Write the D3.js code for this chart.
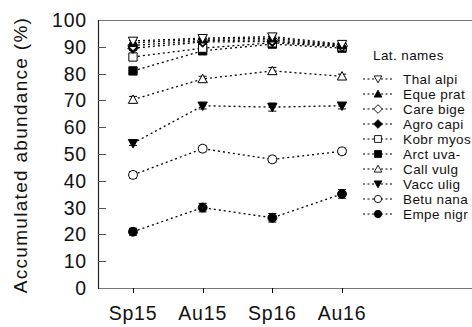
<!DOCTYPE html>
<html><head><meta charset="utf-8">
<script src="https://cdn.jsdelivr.net/npm/d3@7"></script>
<style>
html,body{margin:0;padding:0;background:#fff;}
svg{display:block;font-family:"Liberation Sans",Arial,sans-serif;}
</style></head>
<body><svg id="c" width="472" height="327"></svg>
<script>
const seasons = ["Sp15", "Au15", "Sp16", "Au16"];
const yTicks = [0, 10, 20, 30, 40, 50, 60, 70, 80, 90, 100];
const speciesNames = ["Thal alpi", "Eque prat", "Care bige", "Agro capi", "Kobr myos", "Arct uva-", "Call vulg", "Vacc ulig", "Betu nana", "Empe nigr"];
const speciesMarkers = ["triDownOpen", "triUpFilled", "diamondOpen", "diamondFilled", "squareOpen", "squareFilled", "triUpOpen", "triDownFilled", "circleOpen", "circleFilled"];
const thalAlpi = [92.2, 93.2, 93.8, 91.0];
const equePrat = [91.5, 92.8, 93.2, 90.7];
const careBige = [90.5, 92.3, 92.6, 90.5];
const agroCapi = [89.5, 91.8, 92.0, 90.2];
const kobrMyos = [86.2, 89.5, 91.5, 90.0];
const arctUva = [81.0, 88.5, 91.0, 89.5];
const callVulg = [70.3, 78.0, 81.0, 79.0];
const vaccUlig = [54.0, 68.0, 67.5, 68.0];
const betuNana = [42.2, 52.0, 48.0, 51.0];
const empeNigr = [21.0, 30.0, 26.2, 35.1];
const thalAlpiErr = [0.8, 0.8, 0.8, 0.6];
const equePratErr = [0.8, 0.8, 0.8, 0.6];
const careBigeErr = [0.8, 0.8, 0.8, 0.6];
const agroCapiErr = [0.8, 0.8, 0.8, 0.6];
const kobrMyosErr = [1.0, 0.9, 0.9, 0.7];
const arctUvaErr = [1.3, 1.0, 1.0, 0.8];
const callVulgErr = [1.2, 1.0, 1.3, 0.8];
const vaccUligErr = [0.8, 1.2, 1.5, 1.2];
const betuNanaErr = [1.2, 1.2, 1.2, 1.2];
const empeNigrErr = [1.3, 1.6, 1.6, 1.6];

const seriesVals = [thalAlpi, equePrat, careBige, agroCapi, kobrMyos, arctUva, callVulg, vaccUlig, betuNana, empeNigr];
const seriesErr = [thalAlpiErr, equePratErr, careBigeErr, agroCapiErr, kobrMyosErr, arctUvaErr, callVulgErr, vaccUligErr, betuNanaErr, empeNigrErr];

const svg = d3.select("#c");
const pLeft = 98, pRight = 472, pTop = 20, pBottom = 288;
const y = d3.scaleLinear().domain([0, 100]).range([pBottom, pTop]);
const x = d3.scalePoint().domain(seasons).range([133, 342]);

// frame
svg.append("line").attr("x1", pLeft).attr("x2", pRight).attr("y1", pTop + 0.5).attr("y2", pTop + 0.5).attr("stroke", "#777").attr("stroke-width", 1);
svg.append("line").attr("x1", pLeft).attr("x2", pRight).attr("y1", pBottom + 0.5).attr("y2", pBottom + 0.5).attr("stroke", "#777").attr("stroke-width", 1.2);
svg.append("line").attr("x1", pLeft + 0.5).attr("x2", pLeft + 0.5).attr("y1", pTop).attr("y2", pBottom + 1).attr("stroke", "#222").attr("stroke-width", 1.2);

// y axis ticks (inward) and labels
const yg = svg.append("g");
yg.selectAll("line").data(yTicks.filter(d => d > 0 && d < 100)).join("line")
  .attr("x1", pLeft).attr("x2", pLeft + 8)
  .attr("y1", d => Math.round(y(d)) + 0.5).attr("y2", d => Math.round(y(d)) + 0.5)
  .attr("stroke", "#555").attr("stroke-width", 1);
yg.selectAll("text").data(yTicks).join("text")
  .attr("x", 87).attr("y", d => y(d)).attr("dy", "0.36em")
  .attr("text-anchor", "end").attr("font-size", 19.5).attr("letter-spacing", 0.8)
  .attr("fill", "#111")
  .text(d => d);

// x ticks and labels
const xg = svg.append("g");
xg.selectAll("line").data(seasons).join("line")
  .attr("x1", d => Math.round(x(d)) + 0.5).attr("x2", d => Math.round(x(d)) + 0.5)
  .attr("y1", pBottom).attr("y2", pBottom + 5).attr("stroke", "#000").attr("stroke-width", 1);
xg.selectAll("text").data(seasons).join("text")
  .attr("x", d => x(d)).attr("y", 320)
  .attr("text-anchor", "middle").attr("font-size", 19.5).attr("letter-spacing", 0.8)
  .attr("fill", "#111")
  .text(d => d);

// y label
svg.append("text").attr("transform", "translate(27,155) rotate(-90)")
  .attr("text-anchor", "middle").attr("font-size", 19).attr("letter-spacing", 1.3)
  .attr("fill", "#111")
  .text("Accumulated abundance (%)");

// markers
function markerPath(kind, s) {
  if (kind.startsWith("circle")) return d3.symbol(d3.symbolCircle, s * s * 0.85)();
  if (kind.startsWith("square")) return d3.symbol(d3.symbolSquare, s * s * 0.95)();
  if (kind.startsWith("diamond")) {
    const r = s * 0.62;
    return `M0,${-r}L${r},0L0,${r}L${-r},0Z`;
  }
  const h = s * 0.55;
  if (kind.startsWith("triUp")) return `M0,${-h}L${h},${h * 0.8}L${-h},${h * 0.8}Z`;
  return `M0,${h}L${h},${-h * 0.8}L${-h},${-h * 0.8}Z`;
}
const isFilled = k => k.endsWith("Filled");

const line = d3.line().x((d, i) => x(seasons[i])).y(d => y(d));
const plot = svg.append("g");
for (let si = seriesVals.length - 1; si >= 0; si--) {
  const vals = seriesVals[si], errs = seriesErr[si], mk = speciesMarkers[si];
  const g = plot.append("g");
  g.append("path").attr("d", line(vals)).attr("fill", "none").attr("stroke", "#000")
    .attr("stroke-width", 1.3).attr("stroke-dasharray", "2,3");
  vals.forEach((v, i) => {
    const cx = x(seasons[i]);
    const e = errs[i];
    g.append("line").attr("x1", cx).attr("x2", cx).attr("y1", y(v - e)).attr("y2", y(v + e)).attr("stroke", "#000").attr("stroke-width", 1);
    [v - e, v + e].forEach(t => g.append("line").attr("x1", cx - 4).attr("x2", cx + 4).attr("y1", y(t)).attr("y2", y(t)).attr("stroke", "#000").attr("stroke-width", 1));
    g.append("path").attr("d", markerPath(mk, 8.5)).attr("transform", `translate(${cx},${y(v)})`)
      .attr("fill", isFilled(mk) ? "#000" : "#fff").attr("stroke", "#000").attr("stroke-width", 1);
  });
}

// legend
const lg = svg.append("g");
lg.append("text").attr("x", 373).attr("y", 55).attr("dy", "0.35em").attr("font-size", 13.5).attr("letter-spacing", 0.4).attr("fill", "#111").text("Lat. names");
speciesNames.forEach((name, i) => {
  const ly = 79 + i * 15;
  lg.append("line").attr("x1", 363).attr("x2", 394).attr("y1", ly).attr("y2", ly)
    .attr("stroke", "#000").attr("stroke-width", 1.2).attr("stroke-dasharray", "2,2.5");
  const mk = speciesMarkers[i];
  lg.append("path").attr("d", markerPath(mk, 7)).attr("transform", `translate(378,${ly})`)
    .attr("fill", isFilled(mk) ? "#000" : "#fff").attr("stroke", "#000").attr("stroke-width", 0.9);
  lg.append("text").attr("x", 403).attr("y", ly).attr("dy", "0.35em").attr("font-size", 13.5).attr("letter-spacing", 0.4).attr("fill", "#111").text(name);
});
</script></body></html>
